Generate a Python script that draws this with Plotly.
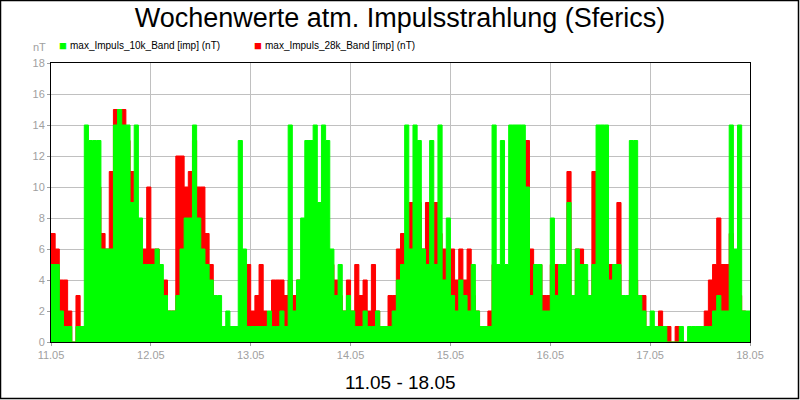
import pandas as pd
import plotly.graph_objects as go

# hourly peak values, 11.05 00:00 .. 17.05 23:00
green_10k = [
    5, 5, 2, 1, 1, 0, 1, 1, 14, 13, 13, 13, 6, 6, 6, 14, 15, 14, 14, 9, 14, 8, 5, 5,
    5, 6, 5, 3, 2, 2, 3, 6, 8, 8, 14, 8, 6, 5, 4, 3, 3, 1, 2, 1, 1, 13, 6, 1,
    1, 1, 1, 1, 2, 1, 1, 2, 1, 14, 2, 4, 8, 13, 13, 14, 9, 14, 13, 6, 3, 5, 2, 3,
    2, 1, 1, 2, 1, 1, 2, 1, 1, 1, 2, 4, 5, 14, 6, 14, 13, 6, 5, 13, 5, 14, 4, 8,
    3, 2, 4, 3, 2, 5, 2, 1, 1, 1, 14, 5, 13, 5, 14, 14, 14, 14, 10, 3, 5, 5, 2, 2,
    8, 3, 5, 5, 9, 3, 6, 5, 5, 3, 5, 14, 14, 14, 4, 5, 5, 3, 3, 13, 13, 3, 2, 1,
    2, 1, 1, 1, 0, 0, 0, 1, 0, 1, 1, 1, 1, 1, 1, 2, 3, 2, 2, 14, 6, 14, 2, 2,
]
red_28k = [
    7, 6, 4, 4, 2, 0, 3, 1, 1, 1, 4, 10, 7, 6, 11, 15, 15, 15, 13, 11, 6, 5, 6, 10,
    6, 6, 4, 4, 2, 2, 12, 12, 10, 11, 13, 10, 10, 7, 5, 2, 1, 1, 1, 0, 1, 0, 1, 5,
    2, 3, 5, 2, 1, 4, 4, 4, 3, 4, 3, 4, 4, 3, 6, 8, 6, 9, 6, 5, 4, 3, 2, 4,
    2, 5, 3, 4, 2, 5, 2, 1, 1, 3, 3, 6, 7, 7, 9, 8, 9, 6, 9, 5, 9, 7, 6, 5,
    6, 4, 6, 4, 6, 3, 2, 1, 1, 2, 5, 4, 3, 3, 4, 5, 6, 13, 13, 6, 3, 5, 3, 3,
    5, 5, 4, 4, 11, 3, 6, 6, 4, 3, 11, 11, 5, 3, 5, 3, 9, 2, 2, 4, 4, 3, 3, 1,
    1, 1, 2, 1, 1, 0, 1, 0, 0, 0, 0, 0, 1, 2, 4, 5, 8, 5, 5, 7, 3, 3, 2, 1,
]
times = pd.date_range("2024-05-11", periods=len(green_10k) + 1, freq="h")
tick_vals = pd.date_range("2024-05-11", "2024-05-18", freq="D")
tick_text = [d.strftime("%d.%m") for d in tick_vals]
names = ["max_Impuls_10k_Band [imp] (nT)", "max_Impuls_28k_Band [imp] (nT)"]

fig = go.Figure()
fig.add_trace(go.Scatter(x=times, y=red_28k + red_28k[-1:], showlegend=False,
                         mode="lines", line=dict(color="#ff0000", width=1, shape="hv"),
                         fill="tozeroy", fillcolor="#ff0000"))
fig.add_trace(go.Scatter(x=times, y=green_10k + green_10k[-1:], showlegend=False,
                         mode="lines", line=dict(color="#00ff00", width=1, shape="hv"),
                         fill="tozeroy", fillcolor="#00ff00"))

# legend entries drawn as annotations with small square markers
annos = []
for px_x, name, col in [(57, names[0], "#00ff00"), (252, names[1], "#ff0000")]:
    annos.append(dict(text="■", x=(px_x - 51) / 699, y=1 + (63 - 45) / 279, xref="paper", yref="paper",
                      xanchor="left", yanchor="middle", showarrow=False,
                      font=dict(size=13, color=col)))
    annos.append(dict(text=name, x=(px_x + 11 - 51) / 699, y=1 + (63 - 45) / 279, xref="paper",
                      yref="paper", xanchor="left", yanchor="middle", showarrow=False,
                      font=dict(size=10, color="black")))

fig.update_layout(
    width=800, height=400, plot_bgcolor="white", paper_bgcolor="white",
    margin=dict(l=51, r=50, t=63, b=58), showlegend=False,
    font=dict(family="Liberation Sans, Arial", color="black"),
    title=dict(text="Wochenwerte atm. Impulsstrahlung (Sferics)", x=0.5, xanchor="center",
               y=1 - 18 / 400, yanchor="middle", font=dict(size=27, color="black")),
    shapes=[dict(type="rect", xref="paper", yref="paper", x0=-50.5/699, x1=1+48.5/699,
                 y0=-56.5/279, y1=1+62.5/279, line=dict(color="black", width=1.5))],
    annotations=annos + [
        dict(text="nT", x=-0.004, y=1 + (63 - 47) / 279, xref="paper", yref="paper", xanchor="right",
             yanchor="middle", showarrow=False, font=dict(size=11, color="#a0a0a0")),
        dict(text="11.05 - 18.05", x=0.5, y=-(382 - 342) / 279, xref="paper", yref="paper",
             yanchor="middle", showarrow=False, font=dict(size=19, color="black")),
    ],
)
fig.update_xaxes(range=[tick_vals[0], tick_vals[-1]], tickvals=tick_vals, ticktext=tick_text,
                 showgrid=True, gridcolor="#c0c0c0", showline=True, linecolor="black", mirror=True,
                 ticks="outside", tickcolor="#a0a0a0", ticklen=3, tickfont=dict(size=11, color="#a0a0a0"))
fig.update_yaxes(range=[0, 18], dtick=2, showgrid=True, gridcolor="#c0c0c0", showline=True,
                 linecolor="black", mirror=True, ticks="outside", tickcolor="#a0a0a0", ticklen=3,
                 tickfont=dict(size=11, color="#a0a0a0"), zeroline=False)
fig.write_html("out.html", config={"displayModeBar": False},
               post_script="document.body.style.margin='0px';")
